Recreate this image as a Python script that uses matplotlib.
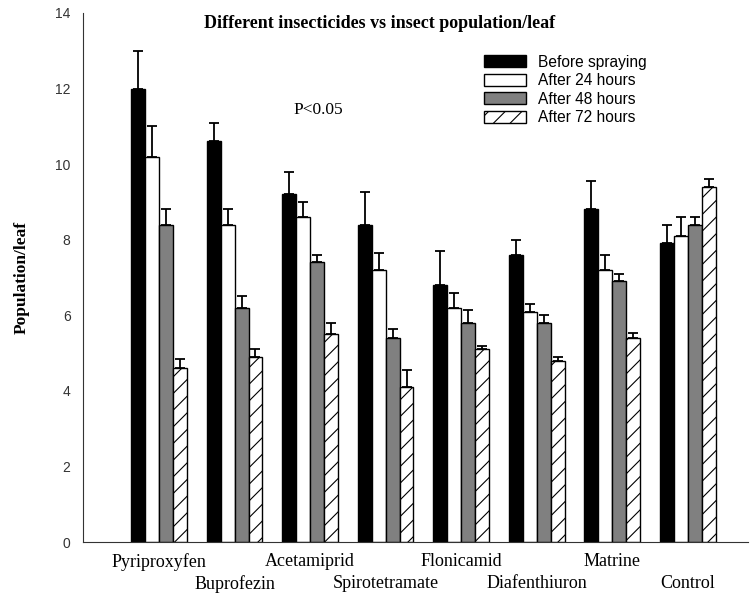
import numpy as np
import matplotlib
matplotlib.use('Agg')
import matplotlib.pyplot as plt

# insecticides (x categories)
treatments = ['Pyriproxyfen', 'Buprofezin', 'Acetamiprid', 'Spirotetramate',
              'Flonicamid', 'Diafenthiuron', 'Matrine', 'Control']
series = ['Before spraying', 'After 24 hours', 'After 48 hours', 'After 72 hours']

# mean population/leaf
before = [12.0, 10.6, 9.2, 8.4, 6.8, 7.6, 8.8, 7.9]
after24 = [10.2, 8.4, 8.6, 7.2, 6.2, 6.1, 7.2, 8.1]
after48 = [8.4, 6.2, 7.4, 5.4, 5.8, 5.8, 6.9, 8.4]
after72 = [4.6, 4.9, 5.5, 4.1, 5.1, 4.8, 5.4, 9.4]

# upper error bars
err_before = [1.0, 0.5, 0.6, 0.85, 0.9, 0.4, 0.75, 0.5]
err_24 = [0.8, 0.4, 0.4, 0.45, 0.4, 0.2, 0.4, 0.5]
err_48 = [0.4, 0.3, 0.2, 0.25, 0.35, 0.2, 0.2, 0.2]
err_72 = [0.25, 0.2, 0.3, 0.45, 0.1, 0.1, 0.13, 0.2]

values = [before, after24, after48, after72]
errors = [err_before, err_24, err_48, err_72]
faces = ['black', 'white', '#808080', 'white']
hatches = [None, None, None, '//']

plt.rcParams['hatch.linewidth'] = 0.8

fig = plt.figure(figsize=(7.51, 5.99), dpi=100)
ax = fig.add_axes([83 / 751, 1 - 542 / 599, (748 - 83) / 751, (542 - 13) / 599])

x = np.arange(len(treatments))
w = 0.185
for i, (vals, errs) in enumerate(zip(values, errors)):
    pos = x + (i - 1.5) * w
    ax.bar(pos, vals, width=w, color=faces[i], edgecolor='black', linewidth=1.0,
           hatch=hatches[i], label=series[i], zorder=2)
    ax.errorbar(pos, vals, yerr=[np.zeros(len(errs)), errs], fmt='none',
                ecolor='black', elinewidth=1.3, capsize=3.3, capthick=1.3, zorder=1)

ax.set_xlim(-1.007, 7.8)
ax.set_ylim(0, 14)
ax.set_yticks(range(0, 15, 2))
ax.tick_params(axis='y', length=0, pad=9, labelsize=10, labelcolor='#333333')
for lab in ax.get_yticklabels():
    lab.set_family('Liberation Sans')
ax.set_xticks([])
for s in ['top', 'right']:
    ax.spines[s].set_visible(False)
ax.spines['left'].set_color('#333333')
ax.spines['bottom'].set_color('#333333')

# category labels in two staggered rows
for i, name in enumerate(treatments):
    off = 20 if i % 2 == 0 else 42
    ax.annotate(name, xy=(x[i], 0), xycoords=('data', 'axes fraction'),
                xytext=(0, -off), textcoords='offset pixels', ha='center', va='center',
                family='Liberation Serif', fontsize=13)

fig.text(22 / 751, 1 - 277 / 599, 'Population/leaf', rotation=90, ha='center', va='center',
         family='Liberation Serif', fontweight='bold', fontsize=12.5)

fig.text(380 / 751, 1 - 23 / 599, 'Different insecticides vs insect population/leaf',
         ha='center', va='center', family='Liberation Serif', fontweight='bold', fontsize=13)
fig.text(318 / 751, 1 - 110 / 599, 'P<0.05', ha='center', va='center',
         family='Liberation Serif', fontsize=12.5)

leg = ax.legend(loc='upper left', bbox_to_anchor=(476 / 751, 1 - 47 / 599),
                bbox_transform=fig.transFigure, frameon=False, borderpad=0,
                handlelength=2.7, handleheight=0.8, handletextpad=0.8,
                labelspacing=0.22, prop={'family': 'Liberation Sans', 'size': 11.2})

fig.savefig('out.png', dpi=100)
